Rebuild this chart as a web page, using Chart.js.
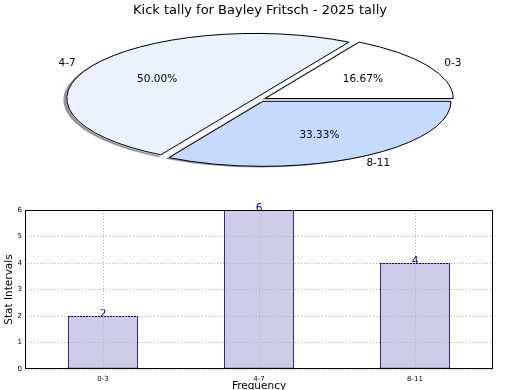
<!DOCTYPE html>
<html>
<head>
<meta charset="utf-8">
<script src="https://cdn.jsdelivr.net/npm/chart.js@4/dist/chart.umd.min.js"></script>
<style>
  html, body { margin: 0; padding: 0; background: #fff; overflow: hidden; }
  #wrap { position: relative; width: 520px; height: 390px; }
  #pieBox { position: absolute; left: 0; top: 0; width: 520px; height: 200px; }
  #barBox { position: absolute; left: 0; top: 200px; width: 520px; height: 195px; }
</style>
</head>
<body>
<div id="wrap">
  <div id="pieBox"><canvas id="pieChart"></canvas></div>
  <div id="barBox"><canvas id="barChart"></canvas></div>
</div>
<script>
// data
const categories = ['0-3', '4-7', '8-11'];
const counts = [2, 6, 4];
const yTicks = [0, 1, 2, 3, 4, 5, 6];
const chartTitle = 'Kick tally for Bayley Fritsch - 2025 tally';

const FONT = '"DejaVu Sans", Verdana, sans-serif';
Chart.defaults.font.family = FONT;
Chart.defaults.color = '#000';

const sliceColors = ['#ffffff', '#ebf2ff', '#c6d9ff'];
const squash = 0.346;      // vertical squash of the pie
const explodePx = 6;       // visible shift of each slice
const pieRadius = 188;

// pie drawn clockwise from 3 o'clock, so reverse order to match matplotlib's ccw layout
const pieOrder = [2, 1, 0];
const pieLabels = pieOrder.map(i => categories[i]);
const pieValues = pieOrder.map(i => counts[i]);
const pieColors = pieOrder.map(i => sliceColors[i]);
const total = counts.reduce((a, b) => a + b, 0);

// chart.js shifts an arc by offset/4 * (1 + fix), undo that so every slice moves explodePx
function offsetFor(value) {
    const circ = value / total * Math.PI * 2;
    const fix = 1 - Math.sin(Math.min(Math.PI, circ));
    return explodePx * 4 / (1 + fix);
}

function arcShift(arc) {
    const circ = arc.endAngle - arc.startAngle;
    const fix = 1 - Math.sin(Math.min(Math.PI, circ));
    return (arc.options.offset || 0) / 4 * (1 + fix);
}

const ellipsePie = {
    id: 'ellipsePie',
    beforeDatasetsDraw(chart) {
        const ctx = chart.ctx;
        const arc = chart.getDatasetMeta(0).data[0];
        ctx.save();
        ctx.shadowColor = 'rgba(0,0,0,0.42)';
        ctx.shadowOffsetX = -3;
        ctx.shadowOffsetY = 1;
        ctx.shadowBlur = 0.5;
        ctx.translate(arc.x, arc.y);
        ctx.scale(1, squash);
        ctx.translate(-arc.x, -arc.y);
    },
    afterDatasetsDraw(chart) {
        const ctx = chart.ctx;
        ctx.restore();
        const meta = chart.getDatasetMeta(0);
        // outlines, built in squashed space but stroked with an even 1px line
        meta.data.forEach(arc => {
            const mid = (arc.startAngle + arc.endAngle) / 2;
            const s = arcShift(arc);
            ctx.save();
            ctx.translate(arc.x, arc.y);
            ctx.scale(1, squash);
            ctx.translate(Math.cos(mid) * s, Math.sin(mid) * s);
            ctx.beginPath();
            ctx.moveTo(0, 0);
            ctx.arc(0, 0, arc.outerRadius, arc.startAngle, arc.endAngle);
            ctx.closePath();
            ctx.restore();
            ctx.lineWidth = 1;
            ctx.strokeStyle = '#000';
            ctx.lineJoin = 'miter';
            ctx.stroke();
        });
        // labels
        ctx.save();
        ctx.font = '10.5px ' + FONT;
        ctx.fillStyle = '#000';
        ctx.textBaseline = 'middle';
        meta.data.forEach((arc, i) => {
            const mid = (arc.startAngle + arc.endAngle) / 2;
            const s = arcShift(arc);
            const r = arc.outerRadius;
            const pct = (pieValues[i] / total * 100).toFixed(2) + '%';
            const px = arc.x + Math.cos(mid) * (s + r * 0.6);
            const py = arc.y + Math.sin(mid) * (s + r * 0.6) * squash;
            ctx.textAlign = 'center';
            ctx.fillText(pct, px, py + 0.5);
            const lx = arc.x + Math.cos(mid) * (s + r * 1.1);
            const ly = arc.y + Math.sin(mid) * (s + r * 1.1) * squash;
            ctx.textAlign = Math.cos(mid) < 0 ? 'right' : 'left';
            ctx.fillText(pieLabels[i], lx, ly + 0.5);
        });
        ctx.restore();
    }
};

new Chart(document.getElementById('pieChart'), {
    type: 'pie',
    data: {
        labels: pieLabels,
        datasets: [{
            data: pieValues,
            backgroundColor: pieColors,
            borderWidth: 0,
            offset: c => offsetFor(c.raw),
            clip: false
        }]
    },
    options: {
        responsive: true,
        maintainAspectRatio: false,
        animation: false,
        rotation: 90,
        radius: pieRadius,
        layout: { padding: { bottom: 23.6 } },
        plugins: {
            legend: { display: false },
            tooltip: { enabled: false },
            title: {
                display: true,
                text: chartTitle,
                font: { size: 13, weight: 'normal' },
                color: '#000',
                padding: { top: 3, bottom: 4 }
            }
        },
        events: []
    },
    plugins: [ellipsePie]
});

// bar chart
const boxAndLabels = {
    id: 'boxAndLabels',
    afterDatasetsDraw(chart) {
        const ctx = chart.ctx;
        const meta = chart.getDatasetMeta(0);
        ctx.save();
        ctx.font = '10.5px ' + FONT;
        ctx.fillStyle = '#000080';
        ctx.textAlign = 'center';
        ctx.textBaseline = 'alphabetic';
        meta.data.forEach((bar, i) => {
            ctx.fillText(String(counts[i]), bar.x, bar.y + 1);
        });
        ctx.restore();
    },
    afterDraw(chart) {
        const { left, top, right, bottom } = chart.chartArea;
        const ctx = chart.ctx;
        ctx.save();
        ctx.strokeStyle = '#000';
        ctx.lineWidth = 1;
        ctx.strokeRect(Math.round(left) + 0.5, Math.round(top) + 0.5,
            Math.round(right - left) - 1, Math.round(bottom - top) - 1);
        ctx.restore();
    }
};

new Chart(document.getElementById('barChart'), {
    type: 'bar',
    data: {
        labels: categories,
        datasets: [{
            data: counts,
            backgroundColor: '#ccccE6',
            borderColor: '#000080',
            borderWidth: 1,
            borderSkipped: false,
            barPercentage: 0.45,
            categoryPercentage: 1
        }]
    },
    options: {
        responsive: true,
        maintainAspectRatio: false,
        animation: false,
        events: [],
        layout: { padding: { top: 10, right: 27, left: 0, bottom: 0 } },
        plugins: {
            legend: { display: false },
            tooltip: { enabled: false }
        },
        scales: {
            x: {
                grid: { offset: false, color: '#b4b4b4', lineWidth: 1, drawTicks: false, z: 1 },
                border: { display: false, dash: [1, 2] },
                ticks: { font: { size: 7 }, padding: 6, color: '#000' },
                title: {
                    display: true,
                    text: 'Frequency',
                    font: { size: 10.5 },
                    color: '#000',
                    padding: { top: 0, bottom: 2.2 }
                },
                afterFit: s => { s.height = 26; }
            },
            y: {
                min: yTicks[0],
                max: yTicks[yTicks.length - 1],
                afterBuildTicks: s => { s.ticks = yTicks.map(v => ({ value: v })); },
                grid: { color: '#b4b4b4', lineWidth: 1, drawTicks: false, z: 1 },
                border: { display: false, dash: [1, 2] },
                ticks: { font: { size: 7 }, padding: 3, color: '#000' },
                title: {
                    display: true,
                    text: 'Stat Intervals',
                    font: { size: 10.5 },
                    color: '#000',
                    padding: { top: 3, bottom: 0 }
                },
                afterFit: s => { s.width = 25; }
            }
        }
    },
    plugins: [boxAndLabels]
});
</script>
</body>
</html>
